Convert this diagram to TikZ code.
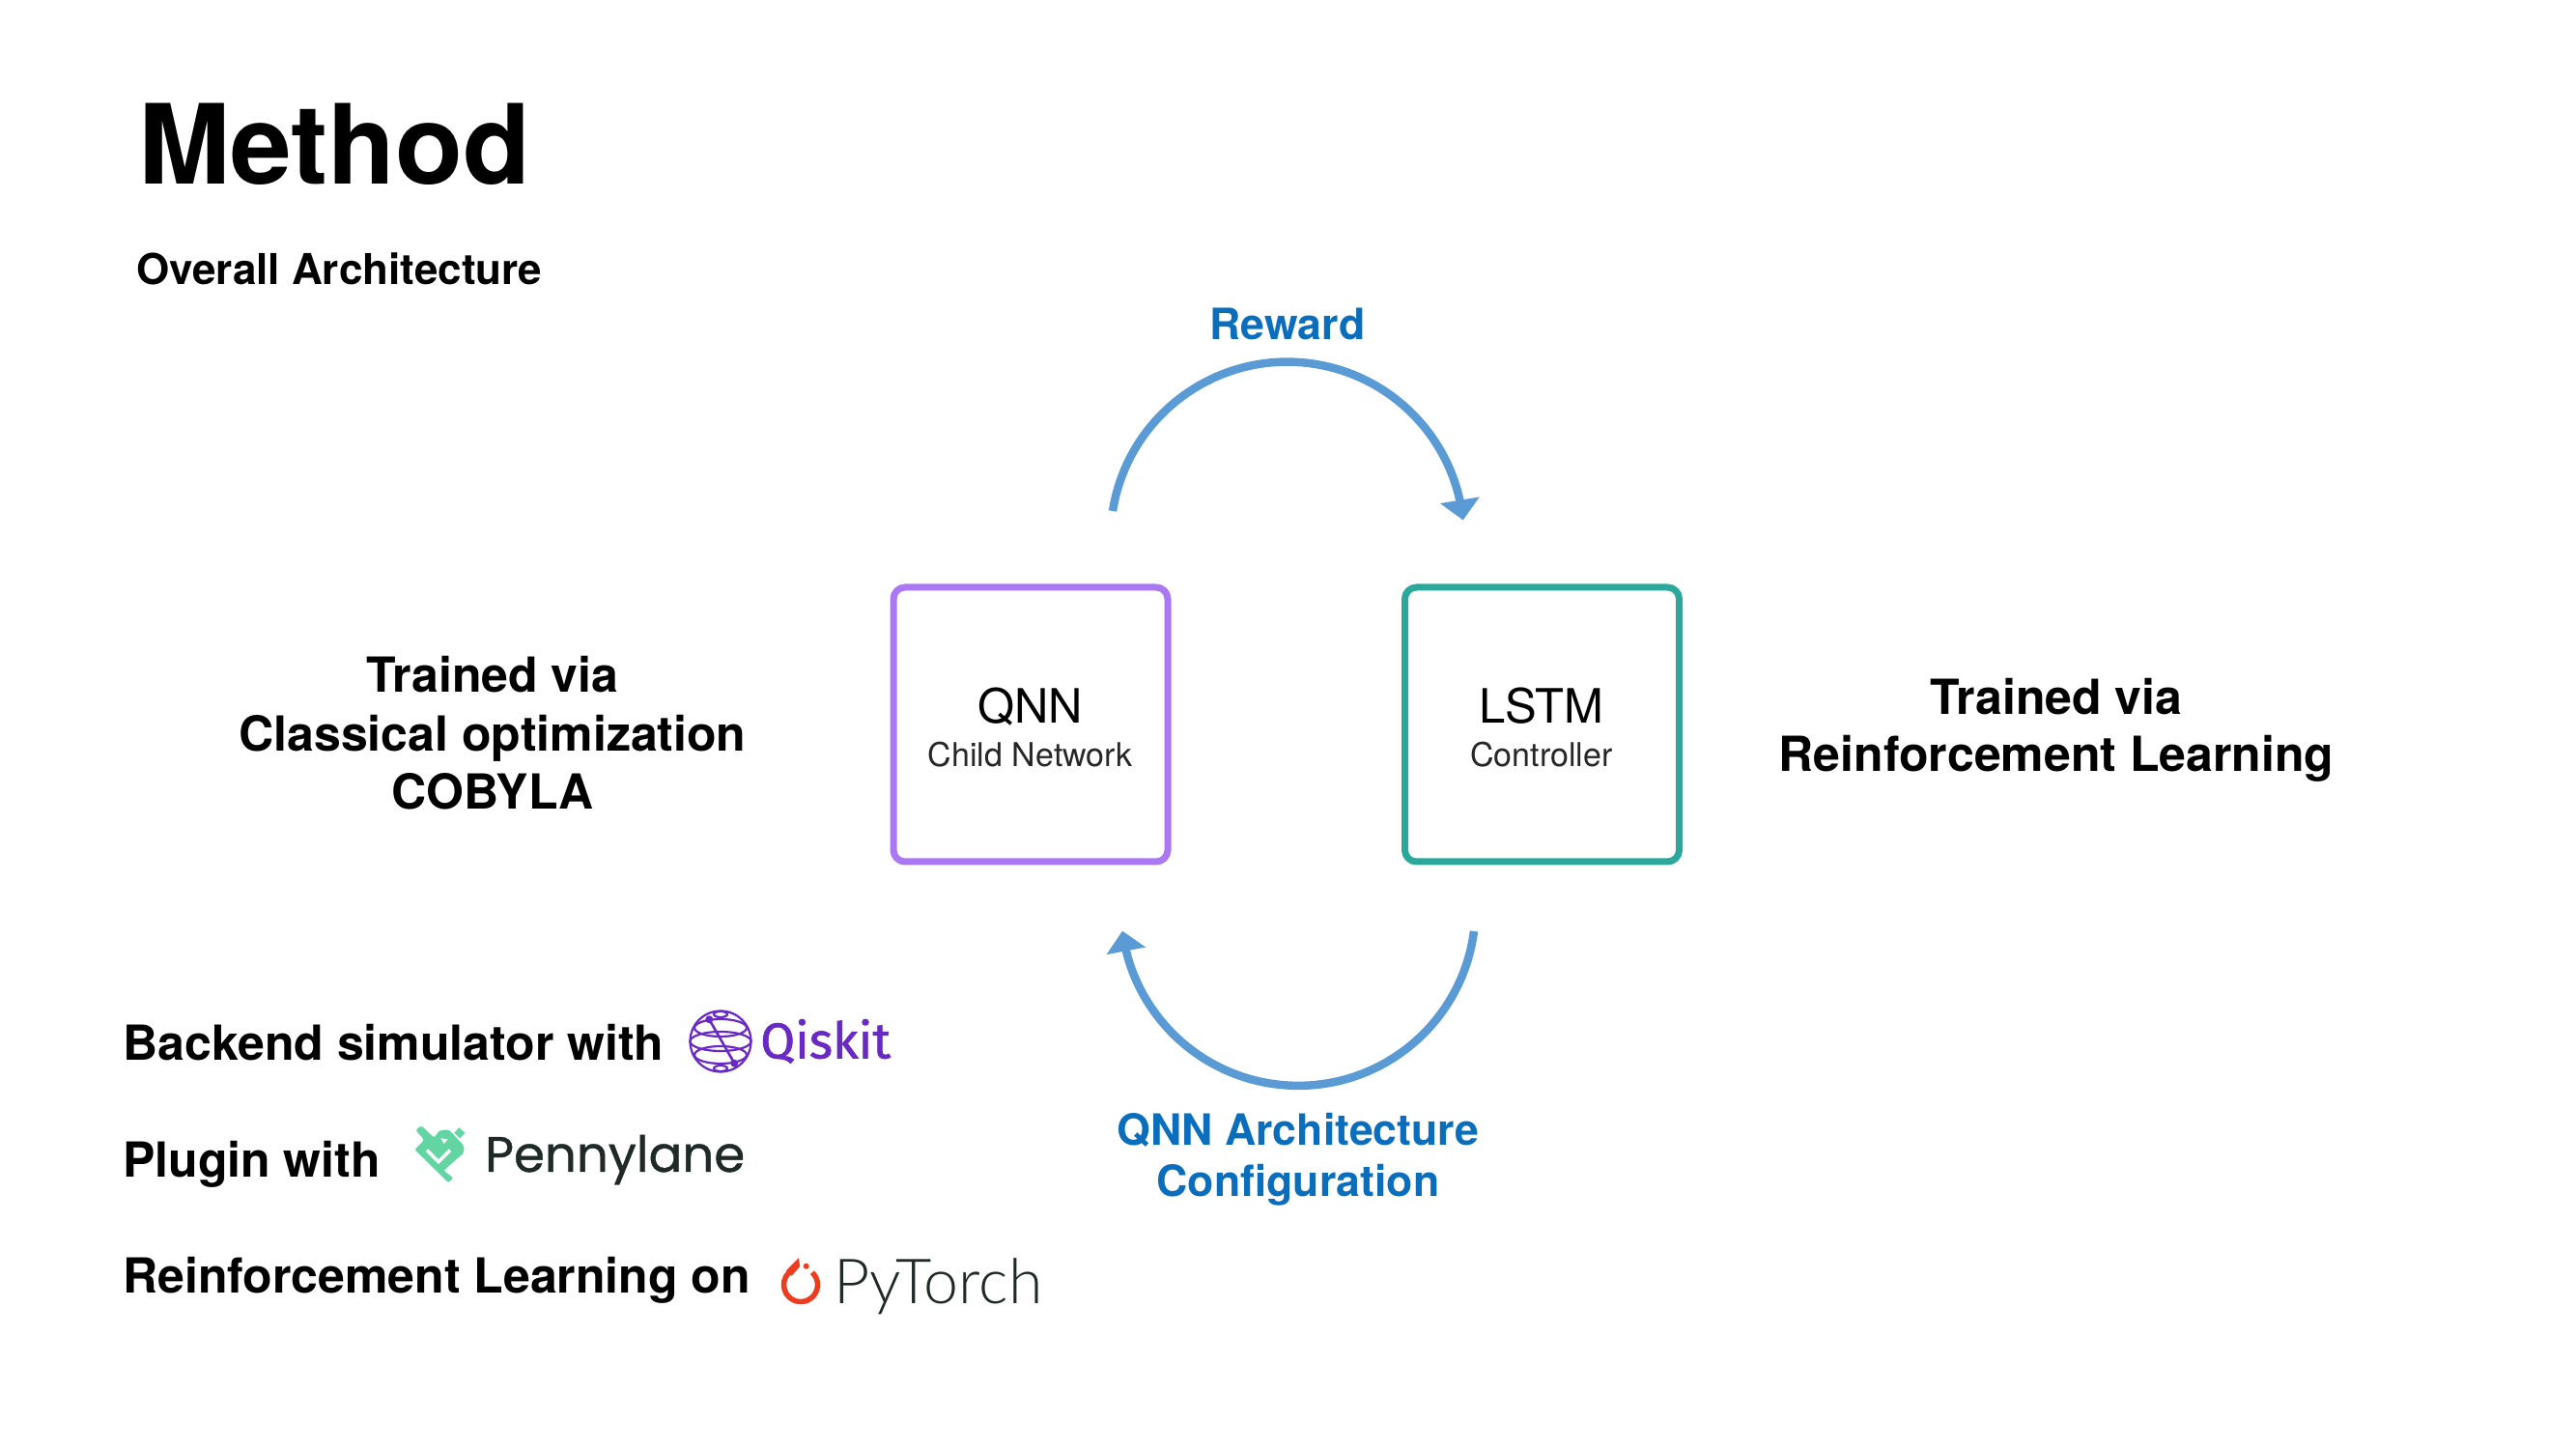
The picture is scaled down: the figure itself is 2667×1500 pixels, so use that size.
\documentclass[tikz,border=0pt]{standalone}
\usepackage{fontspec}
\setmainfont{TeX Gyre Heros}
\newfontfamily\qiskitfont[FakeBold=1.2]{Fira Sans}
\newfontfamily\pennyfont[FakeBold=0.8]{Poppins}
\newfontfamily\torchfont{Lato Light}
\usetikzlibrary{arrows.meta,bending}
\definecolor{flowblue}{HTML}{5B9BD5}
\definecolor{labelblue}{HTML}{0A6EBD}
\definecolor{qnnpurple}{HTML}{A978F2}
\definecolor{lstmteal}{HTML}{2BA79B}
\definecolor{qiskitpurple}{HTML}{6929C4}
\definecolor{pennygreen}{HTML}{62D5A3}
\definecolor{pennyink}{HTML}{1F2A28}
\definecolor{torchred}{HTML}{EE3D1E}
\newcommand{\fs}[1]{\fontsize{#1pt}{#1pt}\selectfont}
\tikzset{
  x=1pt,y=1pt,
  title/.style={anchor=base west,inner sep=0,font=\fs{114.5}\bfseries},
  subtitle/.style={anchor=base west,inner sep=0,font=\fs{44}\bfseries},
  note/.style={anchor=base,inner sep=0,font=\fs{50}\bfseries},
  flowlabel/.style={anchor=base,inner sep=0,font=\fs{44.6}\bfseries,text=labelblue},
  toolline/.style={anchor=base west,inner sep=0,font=\fs{50}\bfseries},
  boxnode/.style={rectangle,rounded corners=12pt,line width=7pt,minimum width=284pt,minimum height=284pt,inner sep=0},
  boxhead/.style={anchor=base,inner sep=0,font=\fs{49}},
  boxsub/.style={anchor=base,inner sep=0,font=\fs{34},text=black!85},
  flow/.style={draw=flowblue,line width=8.5pt,-{Triangle[length=21pt,width=40pt,flex]}},
  globe/.style={draw=qiskitpurple,line width=2.2pt},
}
\begin{document}
\begin{tikzpicture}
\useasboundingbox (0,0) rectangle (2667,1500);
\node[title] (t) at (143,1309) {Method};
\node[subtitle] (st) at (141,1205) {Overall Architecture};

\node[boxnode,draw=qnnpurple] (qnn) at (1067,750) {};
\node[boxnode,draw=lstmteal] (lstm) at (1596.5,750) {};
\node[boxhead] (qnnh) at (1066.5,751) {QNN};
\node[boxsub] (qnns) at (1066.5,706) {Child Network};
\node[boxhead] (lstmh) at (1596,751) {LSTM};
\node[boxsub] (lstms) at (1596,706) {Controller};

\node[note] (l1) at (510,783) {Trained via};
\node[note] (l2) at (510,722) {Classical optimization};
\node[note] (l3) at (510,662) {COBYLA};
\node[note] (r1) at (2129,760) {Trained via};
\node[note] (r2) at (2129,701) {Reinforcement Learning};

\node[flowlabel] (rw) at (1333,1148) {Reward};
\node[flowlabel] (c1) at (1344,314) {QNN Architecture};
\node[flowlabel] (c2) at (1344,261) {Configuration};

\coordinate (rstart) at (1152,971);
\coordinate (cstart) at (1526,536);
\draw[flow] (rstart) arc[start angle=171,end angle=6,radius=183pt];
\draw[flow] (cstart) arc[start angle=-7.4,end angle=-172.7,radius=183.5pt];

\node[toolline] (b1) at (127,402) {Backend simulator with};
\node[toolline] (b2) at (127,281) {Plugin with};
\node[toolline] (b3) at (127,161) {Reinforcement Learning on};

% Qiskit
\begin{scope}[shift={(746,422)}]
  \draw[globe] (0,0) circle[radius=31.5pt];
  \draw[globe] (0,0) ellipse[x radius=31.5pt,y radius=10pt];
  \draw[globe] (0,14) ellipse[x radius=27pt,y radius=9pt];
  \draw[globe] (0,-14) ellipse[x radius=27pt,y radius=9pt];
  \draw[globe] (0,28) ellipse[x radius=7pt,y radius=3pt];
  \draw[globe] (0,-28) ellipse[x radius=7pt,y radius=3pt];
  \draw[globe,line width=2.6pt] (-11.7,22.7) -- (14.3,-22.7);
  \fill[qiskitpurple] (-11.7,22.7) circle[radius=4pt] (14.3,-22.7) circle[radius=4pt];
\end{scope}
\node[anchor=base west,inner sep=0,text=qiskitpurple,font=\fs{52}\qiskitfont] (qk) at (787,404.5) {Qiskit};

% PennyLane
\begin{scope}[shift={(422,340)},x=0.3333pt,y=-0.3333pt]
  \fill[pennygreen,rounded corners=2pt] (42,15) -- (82,53) -- (100,30) -- (128,28) -- (175,78) -- (175,100) -- (112,155) -- (142,178) -- (127,193) -- (22,90) -- (52,60) -- (25,30) -- cycle;
  \fill[white] (103,55) -- (125,58) -- (113,72) -- cycle;
  \draw[white,line width=3.5pt] (60,92) -- (96,128) -- (132,92);
  \fill[pennygreen] (145,38) -- (160,22) -- (178,38) -- (163,55) -- cycle;
\end{scope}
\node[anchor=base west,inner sep=0,text=pennyink,font=\fs{51.5}\pennyfont] (pl) at (502,287) {Pennylane};

% PyTorch
\begin{scope}[shift={(829,170)}]
  \draw[torchred,line width=5.5pt] (11.9,12.8) arc[start angle=47,end angle=-225,radius=17.5pt];
  \fill[torchred] (-2,28) -- (-15.5,14.2) -- (-9.3,9.3) -- (-1,19) -- cycle;
  \fill[torchred] (5.7,19.3) circle[radius=3pt];
\end{scope}
\node[anchor=base west,inner sep=0,text=pennyink,font=\fs{64.5}\torchfont] (pt) at (863,150.5) {PyTorch};
\end{tikzpicture}
\end{document}
